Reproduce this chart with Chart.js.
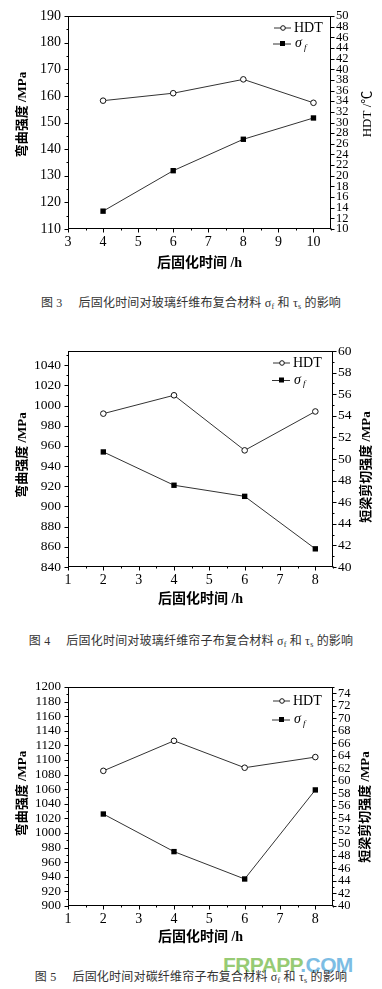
<!DOCTYPE html>
<html>
<head>
<meta charset="utf-8">
<script src="https://cdn.jsdelivr.net/npm/chart.js@4.4.1/dist/chart.umd.min.js"></script>
<style>
html,body{margin:0;padding:0;background:#fff;}
body{width:382px;height:989px;position:relative;overflow:hidden;font-family:"Liberation Serif","Noto Sans CJK SC",serif;}
.wrap{position:absolute;left:0;width:382px;}
canvas{display:block;}
.cap{position:absolute;left:0;width:382px;text-align:center;font-size:12px;line-height:14px;color:#333;white-space:nowrap;letter-spacing:0.2px;font-family:"Liberation Serif","Noto Sans CJK SC",serif;}
.cap sub{font-size:8px;vertical-align:-2px;line-height:0;}
.cap .g{display:inline-block;width:16px;}
.wm{position:absolute;left:223px;top:954px;line-height:21px;font-family:"Liberation Sans",Arial,sans-serif;font-size:21px;font-weight:bold;letter-spacing:-0.6px;opacity:0.85;white-space:nowrap;}
.wm .a{color:#86c25c;}
.wm .b{color:#66b2e0;}
</style>
</head>
<body>
<div class="wrap" style="top:0px"><canvas id="c3" width="382" height="276"></canvas></div>
<div class="cap" style="top:296px">图 3<span class="g"></span>后固化时间对玻璃纤维布复合材料 σ<sub>f</sub> 和 τ<sub>s</sub> 的影响</div>
<div class="wrap" style="top:330px"><canvas id="c4" width="382" height="282"></canvas></div>
<div class="cap" style="top:634px">图 4<span class="g"></span>后固化时间对玻璃纤维帘子布复合材料 σ<sub>f</sub> 和 τ<sub>s</sub> 的影响</div>
<div class="wrap" style="top:670px"><canvas id="c5" width="382" height="280"></canvas></div>
<div class="wm"><span class="a">FRPAPP</span><span class="b">.COM</span></div>
<div class="cap" style="top:970px">图 5<span class="g"></span>后固化时间对碳纤维帘子布复合材料 σ<sub>f</sub> 和 τ<sub>s</sub> 的影响</div>
<script>
// ---------- Data ----------
// Fig 3
const FIG3_X = [4, 6, 8, 10];
const FIG3_HDT = [34.1, 35.5, 38.1, 33.7];
const FIG3_SIGMA = [116.7, 131.9, 143.7, 151.7];
const FIG3_XTICKS = [3, 4, 5, 6, 7, 8, 9, 10];
const FIG3_LEFT_TICKS = [110, 120, 130, 140, 150, 160, 170, 180, 190];
const FIG3_RIGHT_TICKS = [10, 12, 14, 16, 18, 20, 22, 24, 26, 28, 30, 32, 34, 36, 38, 40, 42, 44, 46, 48, 50];
// Fig 4
const FIG4_X = [2, 4, 6, 8];
const FIG4_HDT = [54.2, 55.9, 50.8, 54.4];
const FIG4_SIGMA = [954, 921, 910, 858];
const FIG4_XTICKS = [1, 2, 3, 4, 5, 6, 7, 8];
const FIG4_LEFT_TICKS = [840, 860, 880, 900, 920, 940, 960, 980, 1000, 1020, 1040];
const FIG4_RIGHT_TICKS = [40, 42, 44, 46, 48, 50, 52, 54, 56, 58, 60];
// Fig 5
const FIG5_X = [2, 4, 6, 8];
const FIG5_HDT = [61.6, 66.4, 62.1, 63.8];
const FIG5_SIGMA = [1026, 974.5, 937, 1059];
const FIG5_XTICKS = [1, 2, 3, 4, 5, 6, 7, 8];
const FIG5_LEFT_TICKS = [900, 920, 940, 960, 980, 1000, 1020, 1040, 1060, 1080, 1100, 1120, 1140, 1160, 1180, 1200];
const FIG5_RIGHT_TICKS = [40, 42, 44, 46, 48, 50, 52, 54, 56, 58, 60, 62, 64, 66, 68, 70, 72, 74];

const LEGEND_LABELS = ['HDT', 'σ', 'f'];
const X_TITLE = '后固化时间 /h';
const LEFT_TITLE = '弯曲强度 /MPa';

const SERIF = '"Liberation Serif", "Noto Sans CJK SC", serif';

const decor = {
  id: 'decor',
  afterDatasetsDraw(chart) {
    const o = chart.options.plugins.decor;
    const {ctx, chartArea: a, scales} = chart;
    const L = Math.round(a.left) + 0.5, R = Math.round(a.right) - 0.5;
    const T = Math.round(a.top) + 0.5, B = Math.round(a.bottom) - 0.5;
    ctx.save();
    ctx.strokeStyle = '#000';
    ctx.lineWidth = 1;
    ctx.strokeRect(L, T, R - L, B - T);
    ctx.beginPath();
    const xs = scales.x;
    for (let v = xs.min; v <= xs.max + 1e-9; v += o.xMinor) {
      const major = Math.abs(v - Math.round(v)) < 1e-6;
      const p = Math.round(xs.getPixelForValue(v)) + 0.5;
      ctx.moveTo(p, B); ctx.lineTo(p, B + (major ? 4 : 2));
    }
    const ys = scales.y;
    for (let v = ys.min; v <= ys.max + 1e-9; v += o.yMinor) {
      const major = Math.abs((v - ys.min) / o.yMajor - Math.round((v - ys.min) / o.yMajor)) < 1e-6;
      const p = Math.round(ys.getPixelForValue(v)) + 0.5;
      ctx.moveTo(L, p); ctx.lineTo(L - (major ? 4 : 2), p);
    }
    const y1 = scales.y1;
    for (let v = y1.min; v <= y1.max + 1e-9; v += o.y1Minor) {
      const major = Math.abs((v - y1.min) / o.y1Major - Math.round((v - y1.min) / o.y1Major)) < 1e-6;
      const p = Math.round(y1.getPixelForValue(v)) + 0.5;
      ctx.moveTo(R, p); ctx.lineTo(R + (major ? 4 : 2), p);
    }
    ctx.stroke();

    // axis titles (rotated, reading bottom to top)
    ctx.fillStyle = '#000';
    ctx.font = 'bold 13px ' + SERIF;
    ctx.textAlign = 'center';
    ctx.textBaseline = 'middle';
    ctx.save();
    ctx.translate(o.leftTitleX, o.leftTitleY);
    ctx.rotate(-Math.PI / 2);
    ctx.fillText(LEFT_TITLE, 0, 0);
    ctx.restore();
    ctx.save();
    ctx.font = o.rightTitleWeight + ' 13px ' + SERIF;
    ctx.translate(o.rightTitleX, o.rightTitleY);
    ctx.rotate(-Math.PI / 2);
    ctx.fillText(o.rightTitle, 0, 0);
    ctx.restore();

    // legend
    const tx = o.legX;
    ctx.strokeStyle = '#333';
    ctx.beginPath();
    ctx.moveTo(tx - 20, o.leg1Y + 0.5); ctx.lineTo(tx - 3, o.leg1Y + 0.5);
    ctx.moveTo(tx - 21, o.leg2Y + 0.5); ctx.lineTo(tx - 3, o.leg2Y + 0.5);
    ctx.stroke();
    ctx.beginPath();
    ctx.fillStyle = '#fff';
    ctx.strokeStyle = '#111';
    ctx.arc(tx - 11, o.leg1Y + 0.5, 2.3, 0, Math.PI * 2);
    ctx.fill(); ctx.stroke();
    ctx.fillStyle = '#000';
    ctx.fillRect(tx - 14, o.leg2Y - 2.5, 5, 5);
    ctx.textAlign = 'left';
    ctx.font = '14px ' + SERIF;
    ctx.fillText(LEGEND_LABELS[0], tx, o.leg1Y + 1);
    ctx.font = 'italic 14px ' + SERIF;
    ctx.fillText(LEGEND_LABELS[1], tx + 1, o.leg2Y);
    ctx.font = 'italic 9px ' + SERIF;
    ctx.fillText(LEGEND_LABELS[2], tx + 10, o.leg2Y + 4);
    ctx.restore();
  }
};

const plain = v => String(v);

function makeChart(id, c) {
  const H = c.H;
  return new Chart(document.getElementById(id), {
    type: 'line',
    data: {
      datasets: [
        {
          label: 'HDT',
          data: c.x.map((v, i) => ({x: v, y: c.hdt[i]})),
          yAxisID: 'y1',
          borderColor: '#333', borderWidth: 1,
          pointStyle: 'circle', pointRadius: 2.8,
          pointBackgroundColor: '#fff', pointBorderColor: '#111', pointBorderWidth: 1,
          tension: 0, fill: false
        },
        {
          label: 'σf',
          data: c.x.map((v, i) => ({x: v, y: c.sigma[i]})),
          yAxisID: 'y',
          borderColor: '#333', borderWidth: 1,
          pointStyle: 'rect', pointRadius: 3.8,
          pointBackgroundColor: '#000', pointBorderColor: '#000', pointBorderWidth: 0,
          tension: 0, fill: false
        }
      ]
    },
    options: {
      responsive: false,
      animation: false,
      events: [],
      layout: {padding: {top: c.plotTop, left: 0, right: 0, bottom: 0}},
      plugins: {
        legend: {display: false},
        tooltip: {enabled: false},
        decor: c.decor
      },
      scales: {
        x: {
          type: 'linear', position: 'bottom', min: c.xMin, max: c.xMax,
          afterBuildTicks: s => { s.ticks = c.xTicks.map(v => ({value: v})); },
          afterFit: s => { s.height = H - c.plotBottom; },
          grid: {display: false, drawTicks: false},
          border: {display: false},
          ticks: {autoSkip: false, maxRotation: 0, padding: 5, color: '#000', callback: plain, font: {family: SERIF, size: 14}},
          title: {display: true, text: X_TITLE, color: '#000', font: {family: SERIF, size: 14, weight: 'bold'}, padding: {top: 0, bottom: 4}}
        },
        y: {
          type: 'linear', position: 'left', min: c.yMin, max: c.yMax,
          afterBuildTicks: s => { s.ticks = c.yTicks.map(v => ({value: v})); },
          afterFit: s => { s.width = c.plotLeft; },
          grid: {display: false, drawTicks: false},
          border: {display: false},
          ticks: {autoSkip: false, padding: 7, color: '#000', callback: plain, font: {family: SERIF, size: c.leftFont}}
        },
        y1: {
          type: 'linear', position: 'right', min: c.y1Min, max: c.y1Max,
          afterBuildTicks: s => { s.ticks = c.y1Ticks.map(v => ({value: v})); },
          afterFit: s => { s.width = 382 - c.plotRight; },
          grid: {display: false, drawTicks: false},
          border: {display: false},
          ticks: {autoSkip: false, padding: 5, color: '#000', callback: plain, font: {family: SERIF, size: c.rightFont}}
        }
      }
    },
    plugins: [decor]
  });
}

makeChart('c3', {
  H: 276, plotTop: 16, plotBottom: 229, plotLeft: 68, plotRight: 331,
  leftFont: 14, rightFont: 12.5,
  x: FIG3_X, hdt: FIG3_HDT, sigma: FIG3_SIGMA,
  xMin: 3, xMax: 10.5, xTicks: FIG3_XTICKS,
  yMin: 110, yMax: 190, yTicks: FIG3_LEFT_TICKS,
  y1Min: 10, y1Max: 50, y1Ticks: FIG3_RIGHT_TICKS,
  decor: {xMinor: 0.5, yMajor: 10, yMinor: 5, y1Major: 2, y1Minor: 2,
          leftTitleX: 23, leftTitleY: 114.5, rightTitleX: 368, rightTitleY: 114, rightTitle: 'HDT /℃', rightTitleWeight: 'normal',
          legX: 294, leg1Y: 27.5, leg2Y: 43.5}
});

makeChart('c4', {
  H: 282, plotTop: 21, plotBottom: 237, plotLeft: 68, plotRight: 333,
  leftFont: 13.5, rightFont: 13.5,
  x: FIG4_X, hdt: FIG4_HDT, sigma: FIG4_SIGMA,
  xMin: 1, xMax: 8.5, xTicks: FIG4_XTICKS,
  yMin: 840, yMax: 1054, yTicks: FIG4_LEFT_TICKS,
  y1Min: 40, y1Max: 60, y1Ticks: FIG4_RIGHT_TICKS,
  decor: {xMinor: 0.5, yMajor: 20, yMinor: 10, y1Major: 2, y1Minor: 1,
          leftTitleX: 23, leftTitleY: 125, rightTitleX: 367, rightTitleY: 137, rightTitle: '短梁剪切强度 /MPa', rightTitleWeight: 'bold',
          legX: 293, leg1Y: 32.5, leg2Y: 50}
});

makeChart('c5', {
  H: 280, plotTop: 17, plotBottom: 236, plotLeft: 68, plotRight: 333,
  leftFont: 13, rightFont: 12.5,
  x: FIG5_X, hdt: FIG5_HDT, sigma: FIG5_SIGMA,
  xMin: 1, xMax: 8.5, xTicks: FIG5_XTICKS,
  yMin: 900, yMax: 1200, yTicks: FIG5_LEFT_TICKS,
  y1Min: 40, y1Max: 75, y1Ticks: FIG5_RIGHT_TICKS,
  decor: {xMinor: 0.5, yMajor: 20, yMinor: 10, y1Major: 2, y1Minor: 1,
          leftTitleX: 23, leftTitleY: 123.5, rightTitleX: 366, rightTitleY: 137, rightTitle: '短梁剪切强度 /MPa', rightTitleWeight: 'bold',
          legX: 293, leg1Y: 30.5, leg2Y: 49.5}
});
</script>
</body>
</html>
